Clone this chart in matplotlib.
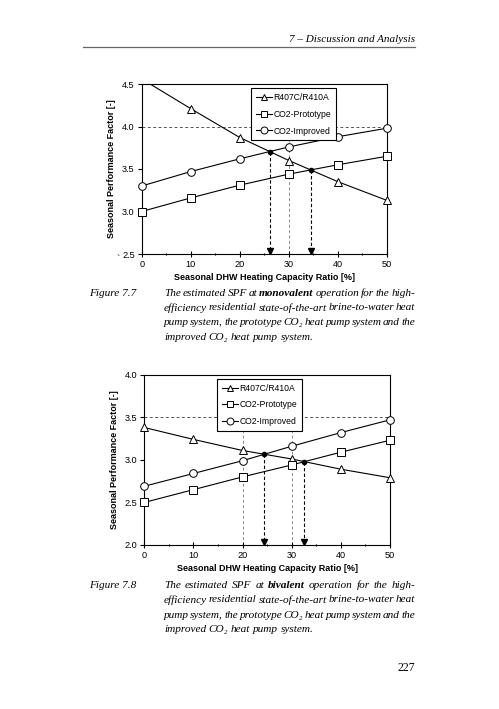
import numpy as np
import matplotlib
matplotlib.use("Agg")
import matplotlib.pyplot as plt
from matplotlib.lines import Line2D

plt.rcParams['font.family'] = ['Liberation Sans', 'DejaVu Sans']

# data read from the page
ratio = [0, 10, 20, 30, 40, 50]
mono_r407c = [4.56, 4.21, 3.87, 3.60, 3.35, 3.13]
mono_proto = [3.00, 3.16, 3.31, 3.44, 3.55, 3.65]
mono_impr = [3.30, 3.47, 3.62, 3.76, 3.88, 3.98]
biv_r407c = [3.38, 3.24, 3.11, 3.01, 2.89, 2.79]
biv_proto = [2.50, 2.65, 2.80, 2.94, 3.09, 3.23]
biv_impr = [2.69, 2.84, 2.99, 3.16, 3.32, 3.47]
series_names = ['R407C/R410A', 'CO2-Prototype', 'CO2-Improved']
series_markers = ['^', 's', 'o']

W, H = 499, 709
fig = plt.figure(figsize=(W / 100, H / 100), dpi=100)
fig.patch.set_facecolor('white')

SERIF = ['Liberation Serif', 'DejaVu Serif']
CAP_FS = 8.1


def px(x, y):
    return x / W, 1 - y / H


def crossing(x, a, b):
    # linear crossing of two polylines
    x = np.asarray(x, float)
    d = np.asarray(a) - np.asarray(b)
    for i in range(len(x) - 1):
        if d[i] * d[i + 1] < 0:
            t = d[i] / (d[i] - d[i + 1])
            return x[i] + t * (x[i + 1] - x[i]), a[i] + t * (a[i + 1] - a[i])
    return None


def spf_chart(rect, ylim, yticks, r407c, proto, impr, ref_y, ref_x, tip_y, leg_x):
    ax = fig.add_axes(rect)
    ax.set_xlim(0, 50)
    ax.set_ylim(*ylim)
    ax.set_xticks(range(0, 51, 10))
    ax.set_xticks(range(5, 50, 10), minor=True)
    ax.set_yticks(yticks)
    ax.set_yticklabels([f'{v:.1f}' for v in yticks])
    ax.tick_params(axis='both', labelsize=6.6, width=0.8, length=3, direction='out', pad=2)
    ax.tick_params(axis='x', direction='inout', length=4)
    ax.tick_params(axis='x', which='minor', direction='inout', length=2, width=0.8)
    for s in ax.spines.values():
        s.set_linewidth(0.8)

    # reference levels
    ax.plot([0, 50], [ref_y, ref_y], ls=(0, (3, 2.5)), color='#555555', lw=0.7, zorder=1)
    for xv in ref_x:
        ax.plot([xv, xv], [ylim[0], ref_y], ls=(0, (3, 2.5)), color='#888888', lw=0.7, zorder=1)

    for vals, m in zip([r407c, proto, impr], series_markers):
        ax.plot(ratio, vals, color='black', lw=0.8, zorder=3)
        xs = [x for x, v in zip(ratio, vals) if ylim[0] <= v <= ylim[1]]
        vs = [v for v in vals if ylim[0] <= v <= ylim[1]]
        ax.plot(xs, vs, ls='none', marker=m, ms=5.5, mfc='white', mec='black',
                mew=0.7, zorder=4, clip_on=False)

    # break-even points with arrows down to the axis
    for other in (impr, proto):
        xc, yc = crossing(ratio, r407c, other)
        ax.plot([xc, xc], [yc, tip_y + 0.03], ls=(0, (3, 2)), color='black', lw=0.8, zorder=2)
        ax.plot([xc], [tip_y], marker='v', color='black', ms=4.5, zorder=4)
        ax.plot([xc], [yc], marker='o', color='black', ms=3, zorder=5)

    handles = [Line2D([], [], color='black', lw=0.8, marker=m, ms=5, mfc='white',
                      mec='black', mew=0.7) for m in series_markers]
    leg = ax.legend(handles, series_names, loc='upper left', bbox_to_anchor=(leg_x, 0.985),
                    fontsize=6.2, frameon=True, fancybox=False, edgecolor='black',
                    handlelength=1.8, handletextpad=0.25, labelspacing=0.9,
                    borderpad=0.55, borderaxespad=0.2, framealpha=1)
    leg.get_frame().set_linewidth(0.8)

    ax.set_ylabel('Seasonal Performance Factor [-]', fontsize=6.5, fontweight='bold', labelpad=4)
    ax.set_xlabel('Seasonal DHW Heating Capacity Ratio [%]', fontsize=6.5, fontweight='bold', labelpad=3)
    return ax


spf_chart([141.7 / W, 1 - 254 / H, 245.3 / W, 170 / H], (2.5, 4.5),
          [2.5, 3.0, 3.5, 4.0, 4.5], mono_r407c, mono_proto, mono_impr,
          4.0, [30], 2.53, 0.44)
spf_chart([144.3 / W, 1 - 545 / H, 245.7 / W, 170.3 / H], (2.0, 4.0),
          [2.0, 2.5, 3.0, 3.5, 4.0], biv_r407c, biv_proto, biv_impr,
          3.5, [20, 30], 2.04, 0.29)

# page furniture
fig.text(*px(415, 40), '7 \u2013 Discussion and Analysis', ha='right', va='center',
         family=SERIF, style='italic', fontsize=8)
fig.add_artist(Line2D([83 / W, 415 / W], [1 - 46.5 / H, 1 - 46.5 / H], color='#666666', lw=0.9))
fig.text(*px(118, 260), '`', ha='center', va='center', family=SERIF, fontsize=7)
fig.text(*px(415, 668), '227', ha='right', va='center', family=SERIF, fontsize=8.5)

renderer = fig.canvas.get_renderer()


def justified_line(x0, x1, y, tokens, justify=True):
    texts = []
    for word, bold in tokens:
        t = fig.text(0, 1 - y / H, word, va='center', ha='left', family=SERIF,
                     style='italic', fontweight='bold' if bold else 'normal', fontsize=CAP_FS)
        texts.append(t)
    widths = [t.get_window_extent(renderer).width for t in texts]
    if justify and len(texts) > 1:
        gap = (x1 - x0 - sum(widths)) / (len(texts) - 1)
    else:
        gap = 2.7
    x = x0
    for t, w in zip(texts, widths):
        t.set_x(x / W)
        x += w + gap


def caption(y0, label, mode):
    fig.text(*px(89, y0), label, ha='left', va='center', family=SERIF, style='italic', fontsize=CAP_FS)
    lines = [
        [('The', 0), ('estimated', 0), ('SPF', 0), ('at', 0), (mode, 1), ('operation', 0),
         ('for', 0), ('the', 0), ('high-', 0)],
        [('efficiency', 0), ('residential', 0), ('state-of-the-art', 0), ('brine-to-water', 0),
         ('heat', 0)],
        [('pump', 0), ('system,', 0), ('the', 0), ('prototype', 0), ('CO\u2082', 0), ('heat', 0),
         ('pump', 0), ('system', 0), ('and', 0), ('the', 0)],
        [('improved', 0), ('CO\u2082', 0), ('heat', 0), ('pump', 0), ('system.', 0)],
    ]
    for i, toks in enumerate(lines):
        justified_line(164, 415, y0 + 15 * i, toks, justify=(i < 3))


caption(293, 'Figure 7.7', 'monovalent')
caption(585, 'Figure 7.8', 'bivalent')

fig.savefig('out.png', dpi=100, facecolor='white')
